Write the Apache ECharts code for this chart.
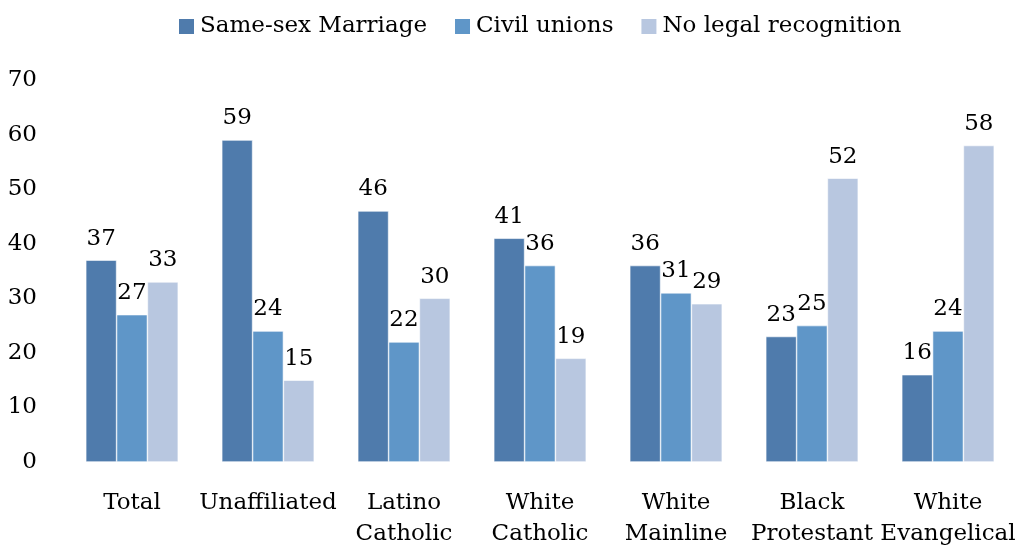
<!DOCTYPE html>
<html>
<head>
<meta charset="utf-8">
<script src="https://cdn.jsdelivr.net/npm/echarts@6/dist/echarts.min.js"></script>
<style>
  html, body { margin: 0; padding: 0; background: #fff; }
  #mychart { width: 1019px; height: 546px; }
</style>
</head>
<body>
<div id="mychart"></div>
<script>
// categories and values
const groups = [
  "Total",
  "Unaffiliated",
  "Latino\nCatholic",
  "White\nCatholic",
  "White\nMainline",
  "Black\nProtestant",
  "White\nEvangelical"
];
const sameSex = [37, 59, 46, 41, 36, 23, 16];
const civilUnions = [27, 24, 22, 36, 31, 25, 24];
const noRecognition = [33, 15, 30, 19, 29, 52, 58];
const seriesNames = ["Same-sex Marriage", "Civil unions", "No legal recognition"];
const colors = ["#4f7bac", "#5f96c8", "#b8c7e0"];

const font = "DejaVu Serif";

const chart = echarts.init(document.getElementById("mychart"));

// one bar series, same look for all three
function barSeries(name, data, color) {
  return {
    name: name,
    type: "bar",
    data: data,
    barGap: "0%",
    barCategoryGap: "32%",
    itemStyle: { color: color, borderColor: "#ffffff", borderWidth: 0.6 },
    label: {
      show: true,
      position: "top",
      distance: 10,
      color: "#000",
      fontFamily: font,
      fontSize: 23
    }
  };
}

const option = {
  animation: false,
  color: colors,
  legend: {
    top: 10,
    left: 172,
    itemWidth: 17,
    itemHeight: 17,
    itemGap: 26,
    icon: "rect",
    textStyle: { fontFamily: font, fontSize: 23, color: "#000" },
    data: seriesNames
  },
  grid: { left: 64, right: 3, top: 80, bottom: 84, outerBoundsMode: "none" },
  xAxis: {
    type: "category",
    data: groups,
    axisLine: { show: false },
    axisTick: { show: false },
    axisLabel: {
      interval: 0,
      margin: 26,
      color: "#000",
      fontFamily: font,
      fontSize: 23,
      lineHeight: 31
    }
  },
  yAxis: {
    type: "value",
    min: 0,
    max: 70,
    interval: 10,
    splitLine: { show: false },
    axisLine: { show: false },
    axisTick: { show: false },
    axisLabel: {
      margin: 27,
      color: "#000",
      fontFamily: font,
      fontSize: 23
    }
  },
  series: [
    barSeries(seriesNames[0], sameSex, colors[0]),
    barSeries(seriesNames[1], civilUnions, colors[1]),
    barSeries(seriesNames[2], noRecognition, colors[2])
  ]
};

chart.setOption(option);
</script>
</body>
</html>
